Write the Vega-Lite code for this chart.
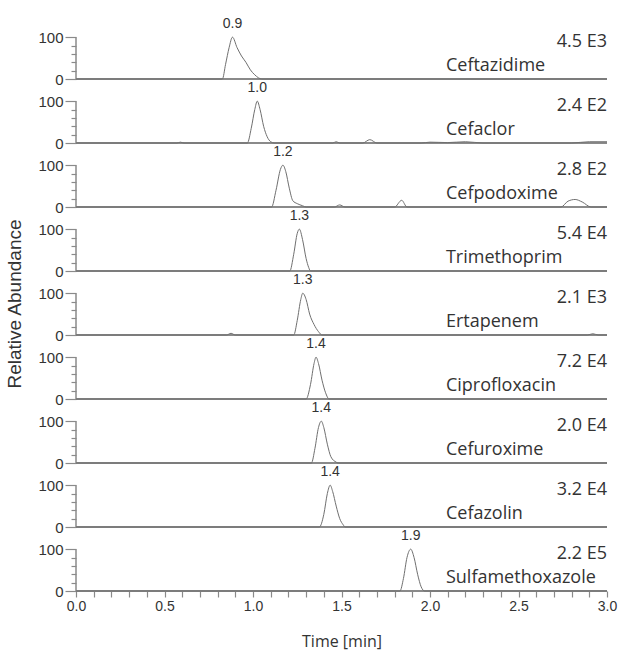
{
  "$schema": "https://vega.github.io/schema/vega-lite/v6.json",
  "background": "white",
  "padding": {"left": 5, "top": 15, "right": 2, "bottom": 4},
  "bounds": "flush",
  "data": {"values": [
    {"c":"Ceftazidime","t":0,"v":0},{"c":"Ceftazidime","t":0.827,"v":0},{"c":"Ceftazidime","t":0.845,"v":35},{"c":"Ceftazidime","t":0.865,"v":75},{"c":"Ceftazidime","t":0.884,"v":100},{"c":"Ceftazidime","t":0.91,"v":75},{"c":"Ceftazidime","t":0.935,"v":55},{"c":"Ceftazidime","t":0.96,"v":40},{"c":"Ceftazidime","t":0.985,"v":22},{"c":"Ceftazidime","t":1.01,"v":10},{"c":"Ceftazidime","t":1.05,"v":0},{"c":"Ceftazidime","t":3,"v":0},
    {"c":"Cefaclor","t":0,"v":0},{"c":"Cefaclor","t":0.57,"v":0},{"c":"Cefaclor","t":0.59,"v":2},{"c":"Cefaclor","t":0.61,"v":0},{"c":"Cefaclor","t":0.968,"v":0},{"c":"Cefaclor","t":0.99,"v":35},{"c":"Cefaclor","t":1.01,"v":80},{"c":"Cefaclor","t":1.024,"v":100},{"c":"Cefaclor","t":1.04,"v":80},{"c":"Cefaclor","t":1.06,"v":40},{"c":"Cefaclor","t":1.08,"v":15},{"c":"Cefaclor","t":1.1,"v":3},{"c":"Cefaclor","t":1.12,"v":0},{"c":"Cefaclor","t":1.45,"v":0},{"c":"Cefaclor","t":1.47,"v":3},{"c":"Cefaclor","t":1.49,"v":0},{"c":"Cefaclor","t":1.62,"v":0},{"c":"Cefaclor","t":1.66,"v":8},{"c":"Cefaclor","t":1.7,"v":0},{"c":"Cefaclor","t":1.95,"v":0},{"c":"Cefaclor","t":2.0,"v":2},{"c":"Cefaclor","t":2.1,"v":1},{"c":"Cefaclor","t":2.2,"v":3},{"c":"Cefaclor","t":2.3,"v":0},{"c":"Cefaclor","t":2.8,"v":0},{"c":"Cefaclor","t":2.9,"v":3},{"c":"Cefaclor","t":3,"v":3},
    {"c":"Cefpodoxime","t":0,"v":0},{"c":"Cefpodoxime","t":1.105,"v":0},{"c":"Cefpodoxime","t":1.13,"v":40},{"c":"Cefpodoxime","t":1.155,"v":90},{"c":"Cefpodoxime","t":1.169,"v":100},{"c":"Cefpodoxime","t":1.185,"v":85},{"c":"Cefpodoxime","t":1.205,"v":45},{"c":"Cefpodoxime","t":1.225,"v":15},{"c":"Cefpodoxime","t":1.25,"v":8},{"c":"Cefpodoxime","t":1.28,"v":3},{"c":"Cefpodoxime","t":1.3,"v":0},{"c":"Cefpodoxime","t":1.46,"v":0},{"c":"Cefpodoxime","t":1.49,"v":5},{"c":"Cefpodoxime","t":1.52,"v":0},{"c":"Cefpodoxime","t":1.8,"v":0},{"c":"Cefpodoxime","t":1.84,"v":16},{"c":"Cefpodoxime","t":1.87,"v":0},{"c":"Cefpodoxime","t":2.74,"v":0},{"c":"Cefpodoxime","t":2.78,"v":14},{"c":"Cefpodoxime","t":2.82,"v":18},{"c":"Cefpodoxime","t":2.86,"v":12},{"c":"Cefpodoxime","t":2.91,"v":0},{"c":"Cefpodoxime","t":3,"v":0},
    {"c":"Trimethoprim","t":0,"v":0},{"c":"Trimethoprim","t":1.208,"v":0},{"c":"Trimethoprim","t":1.23,"v":40},{"c":"Trimethoprim","t":1.25,"v":90},{"c":"Trimethoprim","t":1.262,"v":100},{"c":"Trimethoprim","t":1.28,"v":75},{"c":"Trimethoprim","t":1.3,"v":30},{"c":"Trimethoprim","t":1.315,"v":8},{"c":"Trimethoprim","t":1.325,"v":0},{"c":"Trimethoprim","t":3,"v":0},
    {"c":"Ertapenem","t":0,"v":0},{"c":"Ertapenem","t":0.85,"v":0},{"c":"Ertapenem","t":0.876,"v":4},{"c":"Ertapenem","t":0.9,"v":0},{"c":"Ertapenem","t":1.23,"v":0},{"c":"Ertapenem","t":1.25,"v":35},{"c":"Ertapenem","t":1.27,"v":85},{"c":"Ertapenem","t":1.281,"v":100},{"c":"Ertapenem","t":1.3,"v":85},{"c":"Ertapenem","t":1.32,"v":50},{"c":"Ertapenem","t":1.345,"v":25},{"c":"Ertapenem","t":1.37,"v":8},{"c":"Ertapenem","t":1.39,"v":0},{"c":"Ertapenem","t":2.89,"v":0},{"c":"Ertapenem","t":2.92,"v":3},{"c":"Ertapenem","t":2.95,"v":0},{"c":"Ertapenem","t":3,"v":0},
    {"c":"Ciprofloxacin","t":0,"v":0},{"c":"Ciprofloxacin","t":1.3,"v":0},{"c":"Ciprofloxacin","t":1.325,"v":35},{"c":"Ciprofloxacin","t":1.345,"v":85},{"c":"Ciprofloxacin","t":1.356,"v":100},{"c":"Ciprofloxacin","t":1.37,"v":85},{"c":"Ciprofloxacin","t":1.39,"v":45},{"c":"Ciprofloxacin","t":1.41,"v":15},{"c":"Ciprofloxacin","t":1.43,"v":0},{"c":"Ciprofloxacin","t":3,"v":0},
    {"c":"Cefuroxime","t":0,"v":0},{"c":"Cefuroxime","t":1.33,"v":0},{"c":"Cefuroxime","t":1.35,"v":35},{"c":"Cefuroxime","t":1.37,"v":85},{"c":"Cefuroxime","t":1.386,"v":100},{"c":"Cefuroxime","t":1.4,"v":85},{"c":"Cefuroxime","t":1.42,"v":45},{"c":"Cefuroxime","t":1.44,"v":15},{"c":"Cefuroxime","t":1.47,"v":2},{"c":"Cefuroxime","t":1.48,"v":0},{"c":"Cefuroxime","t":3,"v":0},
    {"c":"Cefazolin","t":0,"v":0},{"c":"Cefazolin","t":1.375,"v":0},{"c":"Cefazolin","t":1.4,"v":30},{"c":"Cefazolin","t":1.42,"v":80},{"c":"Cefazolin","t":1.436,"v":100},{"c":"Cefazolin","t":1.45,"v":85},{"c":"Cefazolin","t":1.47,"v":50},{"c":"Cefazolin","t":1.49,"v":20},{"c":"Cefazolin","t":1.51,"v":5},{"c":"Cefazolin","t":1.52,"v":0},{"c":"Cefazolin","t":3,"v":0},
    {"c":"Sulfamethoxazole","t":0,"v":0},{"c":"Sulfamethoxazole","t":1.83,"v":0},{"c":"Sulfamethoxazole","t":1.85,"v":30},{"c":"Sulfamethoxazole","t":1.87,"v":80},{"c":"Sulfamethoxazole","t":1.891,"v":100},{"c":"Sulfamethoxazole","t":1.91,"v":80},{"c":"Sulfamethoxazole","t":1.93,"v":40},{"c":"Sulfamethoxazole","t":1.95,"v":10},{"c":"Sulfamethoxazole","t":1.97,"v":0},{"c":"Sulfamethoxazole","t":3,"v":0},
    {"c":"Ceftazidime","rt":"0.9","apex":0.884,"amp":"4.5 E3"},
    {"c":"Cefaclor","rt":"1.0","apex":1.024,"amp":"2.4 E2"},
    {"c":"Cefpodoxime","rt":"1.2","apex":1.169,"amp":"2.8 E2"},
    {"c":"Trimethoprim","rt":"1.3","apex":1.262,"amp":"5.4 E4"},
    {"c":"Ertapenem","rt":"1.3","apex":1.281,"amp":"2.1 E3"},
    {"c":"Ciprofloxacin","rt":"1.4","apex":1.356,"amp":"7.2 E4"},
    {"c":"Cefuroxime","rt":"1.4","apex":1.386,"amp":"2.0 E4"},
    {"c":"Cefazolin","rt":"1.4","apex":1.436,"amp":"3.2 E4"},
    {"c":"Sulfamethoxazole","rt":"1.9","apex":1.891,"amp":"2.2 E5"}
  ]},
  "facet": {
    "row": {
      "field": "c",
      "type": "nominal",
      "sort": ["Ceftazidime","Cefaclor","Cefpodoxime","Trimethoprim","Ertapenem","Ciprofloxacin","Cefuroxime","Cefazolin","Sulfamethoxazole"],
      "header": {
        "title": "\u00a0\u00a0\u00a0\u00a0\u00a0\u00a0\u00a0\u00a0\u00a0\u00a0\u00a0\u00a0\u00a0\u00a0\u00a0\u00a0\u00a0\u00a0\u00a0\u00a0\u00a0\u00a0\u00a0\u00a0\u00a0\u00a0\u00a0\u00a0\u00a0\u00a0Relative Abundance",
        "labels": false,
        "titleFont": "Liberation Sans",
        "titleFontSize": 19,
        "titleFontWeight": "normal",
        "titleColor": "#333333",
        "titlePadding": 2
      }
    }
  },
  "spacing": {"row": 0},
  "resolve": {"scale": {"x": "shared", "y": "shared"}},
  "spec": {
    "width": 531,
    "height": 64,
    "layer": [
      {
        "transform": [{"filter": "isValid(datum.rt)"}],
        "mark": {"type": "rule", "color": "#8a8a8a", "strokeWidth": 2.2},
        "encoding": {"y": {"datum": 0, "type": "quantitative", "scale": {"domain": [0, 153], "nice": false}}}
      },
      {
        "transform": [{"filter": "isValid(datum.rt)"}],
        "mark": {"type": "rule", "color": "#8a8a8a", "strokeWidth": 1.5},
        "encoding": {
          "x": {"datum": 0, "type": "quantitative"},
          "y": {"datum": 0, "type": "quantitative"},
          "y2": {"datum": 100}
        }
      },
      {
        "transform": [{"filter": "isValid(datum.t)"}],
        "mark": {"type": "line", "color": "#6f6f6f", "strokeWidth": 1, "interpolate": "monotone"},
        "encoding": {
          "x": {
            "field": "t", "type": "quantitative",
            "scale": {"domain": [0, 3], "nice": false},
            "axis": {
              "title": "Time [min]",
              "titleFont": "Open Sans", "titleFontSize": 16, "titleFontWeight": "normal", "titleColor": "#333333", "titlePadding": 20,
              "values": [0,0.1,0.2,0.3,0.4,0.5,0.6,0.7,0.8,0.9,1,1.1,1.2,1.3,1.4,1.5,1.6,1.7,1.8,1.9,2,2.1,2.2,2.3,2.4,2.5,2.6,2.7,2.8,2.9,3],
              "tickCount": 40,
              "labelExpr": "abs(datum.value*2 - round(datum.value*2)) < 0.001 ? format(datum.value, '.1f') : ''",
              "labelFont": "Liberation Sans", "labelFontSize": 14, "labelColor": "#333333", "labelPadding": 2,
              "labelOverlap": false, "labelFlush": false,
              "tickColor": "#8a8a8a", "tickSize": 6, "tickWidth": 1.2,
              "domain": false, "grid": false
            }
          },
          "y": {
            "field": "v", "type": "quantitative",
            "scale": {"domain": [0, 153], "nice": false},
            "axis": {
              "title": null,
              "values": [0, 20, 40, 60, 80, 100],
              "tickCount": 10,
              "labelExpr": "datum.value === 0 || datum.value === 100 ? datum.label : ''",
              "labelFont": "Liberation Sans", "labelFontSize": 15, "labelColor": "#333333", "labelPadding": 2,
              "labelOverlap": false, "labelBaseline": "middle",
              "tickColor": "#8a8a8a", "tickWidth": 1.2,
              "tickSize": {"condition": {"test": "datum.value === 0 || datum.value === 100", "value": 11}, "value": 5},
              "domain": false, "grid": false
            }
          }
        }
      },
      {
        "transform": [{"filter": "isValid(datum.rt)"}],
        "mark": {"type": "text", "font": "Liberation Sans", "fontSize": 14, "color": "#333333", "align": "center", "baseline": "alphabetic"},
        "encoding": {
          "x": {"field": "apex", "type": "quantitative"},
          "y": {"datum": 121, "type": "quantitative"},
          "text": {"field": "rt"}
        }
      },
      {
        "transform": [{"filter": "isValid(datum.rt)"}],
        "mark": {"type": "text", "font": "Open Sans", "fontSize": 18, "color": "#333333", "align": "right", "baseline": "middle"},
        "encoding": {
          "x": {"datum": 3, "type": "quantitative"},
          "y": {"datum": 88, "type": "quantitative"},
          "text": {"field": "amp"}
        }
      },
      {
        "transform": [{"filter": "isValid(datum.rt)"}],
        "mark": {"type": "text", "font": "Open Sans", "fontSize": 18, "color": "#333333", "align": "left", "baseline": "middle"},
        "encoding": {
          "x": {"datum": 2.09, "type": "quantitative"},
          "y": {"datum": 32, "type": "quantitative"},
          "text": {"field": "c"}
        }
      }
    ]
  },
  "config": {"view": {"stroke": null}}
}
